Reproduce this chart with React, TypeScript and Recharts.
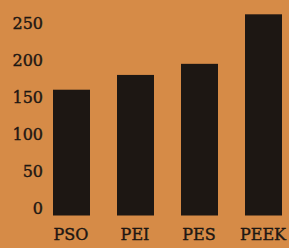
import React from 'react';
import { BarChart, Bar, XAxis, YAxis } from 'recharts';

const polymers = ['PSO', 'PEI', 'PES', 'PEEK'];
const tempValues = [160, 180, 195, 262];
const yTicks = [0, 50, 100, 150, 200, 250];

const data = polymers.map((name, i) => ({ name, value: tempValues[i] }));

const INK = '#1d1713';
const BG = '#d68b47';
const FONT = '"DejaVu Serif", serif';

// bars in the print run a little below the zero line
const renderBar = (props: any) => {
  const { x, y, width, height } = props;
  return <rect x={x} y={y} width={width} height={height + 7.5} fill={INK} />;
};

const renderYTick = ({ x, y, payload }: any) => (
  <text
    x={x + 4}
    y={y}
    dy={6}
    textAnchor="end"
    fill={INK}
    stroke={INK}
    strokeWidth={0.4}
    fontSize={16}
    fontFamily={FONT}
  >
    {payload.value}
  </text>
);

const renderXTick = ({ x, y, payload }: any) => (
  <text
    x={x}
    y={y + 32}
    textAnchor="middle"
    fill={INK}
    stroke={INK}
    strokeWidth={0.4}
    fontSize={16}
    fontFamily={FONT}
  >
    {payload.value}
  </text>
);

export default function App() {
  return (
    <div
      style={{
        position: 'fixed',
        left: 0,
        top: 0,
        width: 289,
        height: 248,
        overflow: 'hidden',
        background: BG,
      }}
    >
      <BarChart
        width={295}
        height={248}
        data={data}
        margin={{ top: 1, right: 0, bottom: 10, left: 0 }}
        barSize={37}
      >
        <XAxis
          dataKey="name"
          height={30}
          axisLine={false}
          tickLine={false}
          tickSize={0}
          tickMargin={0}
          tick={renderXTick}
          interval={0}
        />
        <YAxis
          width={39}
          domain={[0, 280]}
          ticks={yTicks}
          axisLine={false}
          tickLine={false}
          tickSize={0}
          tickMargin={0}
          tick={renderYTick}
          interval={0}
        />
        <Bar dataKey="value" fill={INK} shape={renderBar} isAnimationActive={false} />
      </BarChart>
    </div>
  );
}
